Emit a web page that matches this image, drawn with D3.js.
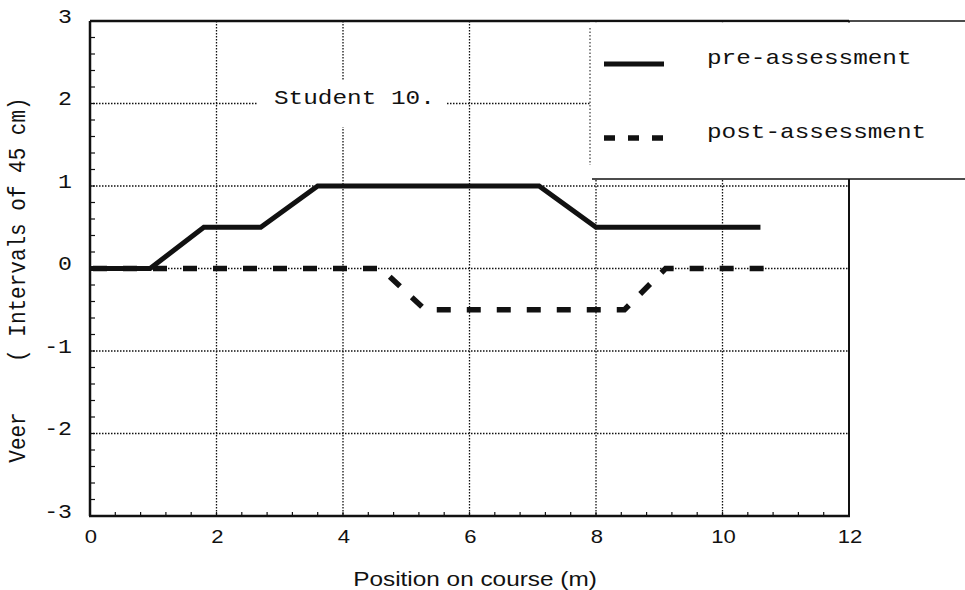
<!DOCTYPE html>
<html>
<head>
<meta charset="utf-8">
<script src="https://cdn.jsdelivr.net/npm/d3@7"></script>
<style>
  html, body { margin: 0; padding: 0; background: #fff; }
  svg { display: block; }
  .mono { font-family: "Liberation Mono", "DejaVu Sans Mono", monospace; }
  .sans { font-family: "Liberation Sans", Arial, sans-serif; }
</style>
</head>
<body>
<svg id="chart" width="965" height="590"></svg>
<script>
// data
const preX  = [0, 0.95, 1.8, 2.7, 3.6, 7.1, 8.0, 10.6];
const preY  = [0, 0, 0.5, 0.5, 1, 1, 0.5, 0.5];
const postX = [0, 4.6, 5.3, 8.45, 9.1, 10.65];
const postY = [0, 0, -0.5, -0.5, 0, 0];

const xTicks = [0, 2, 4, 6, 8, 10, 12];
const yTicks = [-3, -2, -1, 0, 1, 2, 3];
const legendLabels = ["pre-assessment", "post-assessment"];
const noteLabel = "Student 10.";

const ink = "#111";
const stretch = 1.16; // scan is a bit wider than tall

const svg = d3.select("#chart");
const pLeft = 90, pRight = 849, pTop = 21, pBottom = 516;

const x = d3.scaleLinear().domain([0, 12]).range([pLeft, pRight]);
const y = d3.scaleLinear().domain([-3, 3]).range([pBottom, pTop]);

// dotted grid
svg.append("g")
  .selectAll("line")
  .data(xTicks.filter(d => d > 0 && d < 12))
  .enter().append("line")
  .attr("x1", d => x(d)).attr("x2", d => x(d))
  .attr("y1", pTop).attr("y2", pBottom)
  .attr("stroke", ink).attr("stroke-width", 1.3)
  .attr("stroke-dasharray", "1.5,1.5");

svg.append("g")
  .selectAll("line")
  .data(yTicks.filter(d => d > -3 && d < 3))
  .enter().append("line")
  .attr("x1", pLeft).attr("x2", pRight)
  .attr("y1", d => y(d)).attr("y2", d => y(d))
  .attr("stroke", ink).attr("stroke-width", 1.3)
  .attr("stroke-dasharray", "1.5,1.5");

// minor ticks
const yMinor = d3.range(-3, 3.001, 0.2).map(v => +v.toFixed(1));
svg.append("g").selectAll("line")
  .data(yMinor)
  .enter().append("line")
  .attr("x1", pLeft).attr("x2", pLeft + 5)
  .attr("y1", d => y(d)).attr("y2", d => y(d))
  .attr("stroke", ink).attr("stroke-width", 1.2);

const xMinor = d3.range(0, 12.001, 0.4).map(v => +v.toFixed(1));
svg.append("g").selectAll("line")
  .data(xMinor)
  .enter().append("line")
  .attr("x1", d => x(d)).attr("x2", d => x(d))
  .attr("y1", pBottom).attr("y2", pBottom - 4)
  .attr("stroke", ink).attr("stroke-width", 1.2);

// frame
svg.append("line").attr("x1", pLeft).attr("x2", pLeft).attr("y1", pTop).attr("y2", pBottom)
  .attr("stroke", ink).attr("stroke-width", 2.5);
svg.append("line").attr("x1", pLeft - 1).attr("x2", pRight + 1).attr("y1", pBottom).attr("y2", pBottom)
  .attr("stroke", ink).attr("stroke-width", 2.5);
svg.append("line").attr("x1", pLeft).attr("x2", pRight).attr("y1", pTop).attr("y2", pTop)
  .attr("stroke", ink).attr("stroke-width", 2.5);
svg.append("line").attr("x1", pRight).attr("x2", pRight).attr("y1", pTop).attr("y2", pBottom)
  .attr("stroke", ink).attr("stroke-width", 2);

// series
const line = d3.line().x(d => x(d[0])).y(d => y(d[1]));

svg.append("path")
  .datum(postX.map((v, i) => [v, postY[i]]))
  .attr("d", line)
  .attr("fill", "none")
  .attr("stroke", ink).attr("stroke-width", 5.5)
  .attr("stroke-dasharray", "14,16")
  .attr("stroke-dashoffset", 27);

svg.append("path")
  .datum(preX.map((v, i) => [v, preY[i]]))
  .attr("d", line)
  .attr("fill", "none")
  .attr("stroke", ink).attr("stroke-width", 5)
  .attr("stroke-linejoin", "miter");

// "Student 10." note with white backing
svg.append("rect")
  .attr("x", 258).attr("y", 80).attr("width", 189).attr("height", 47)
  .attr("fill", "#fff");
svg.append("g")
  .attr("transform", `translate(274,104) scale(${stretch},1)`)
  .append("text").attr("class", "mono")
  .attr("font-size", 21).attr("fill", ink)
  .text(noteLabel);

// legend box
svg.append("rect")
  .attr("x", 590).attr("y", pTop + 1.5).attr("width", 380).attr("height", 179 - pTop - 1.5)
  .attr("fill", "#fff");
svg.append("line").attr("x1", pRight).attr("x2", 965).attr("y1", pTop).attr("y2", pTop)
  .attr("stroke", ink).attr("stroke-width", 1.5);
svg.append("line").attr("x1", 590).attr("x2", 590).attr("y1", 28).attr("y2", 165)
  .attr("stroke", ink).attr("stroke-width", 1)
  .attr("stroke-dasharray", "1.5,2");
svg.append("line").attr("x1", 592).attr("x2", 965).attr("y1", 179).attr("y2", 179)
  .attr("stroke", ink).attr("stroke-width", 1.5);

const legendRows = [
  { label: legendLabels[0], yPos: 64, dash: null, w: 5 },
  { label: legendLabels[1], yPos: 138, dash: "11,13", w: 5.5 }
];
const lg = svg.append("g").selectAll("g")
  .data(legendRows).enter().append("g");
lg.append("line")
  .attr("x1", 604).attr("x2", 664)
  .attr("y1", d => d.yPos).attr("y2", d => d.yPos)
  .attr("stroke", ink)
  .attr("stroke-width", d => d.w)
  .attr("stroke-dasharray", d => d.dash);
lg.append("g")
  .attr("transform", d => `translate(707,${d.yPos}) scale(${stretch},1)`)
  .append("text").attr("class", "mono")
  .attr("font-size", 21).attr("fill", ink)
  .text(d => d.label);

// tick labels
svg.append("g").selectAll("g")
  .data(yTicks).enter().append("g")
  .attr("transform", d => `translate(72,${y(d) + 1.5}) scale(${stretch},1)`)
  .append("text").attr("class", "mono")
  .attr("font-size", 20).attr("fill", ink)
  .attr("text-anchor", "end")
  .text(d => String(d));

svg.append("g").selectAll("g")
  .data(xTicks).enter().append("g")
  .attr("transform", d => `translate(${x(d) + 1},543) scale(${stretch},1)`)
  .append("text").attr("class", "sans")
  .attr("font-size", 19).attr("fill", ink)
  .attr("text-anchor", "middle")
  .text(d => String(d));

// axis titles
svg.append("g")
  .attr("transform", `translate(475,586) scale(${stretch},1)`)
  .append("text").attr("class", "sans")
  .attr("font-size", 21).attr("fill", ink)
  .attr("text-anchor", "middle")
  .text("Position on course (m)");

svg.append("g")
  .attr("transform", `translate(25,280) scale(${stretch},1) rotate(-90)`)
  .append("text").attr("class", "mono")
  .attr("font-size", 21).attr("fill", ink)
  .attr("text-anchor", "middle")
  .style("white-space", "pre")
  .attr("xml:space", "preserve")
  .text("Veer    ( Intervals of 45 cm)");
</script>
</body>
</html>
